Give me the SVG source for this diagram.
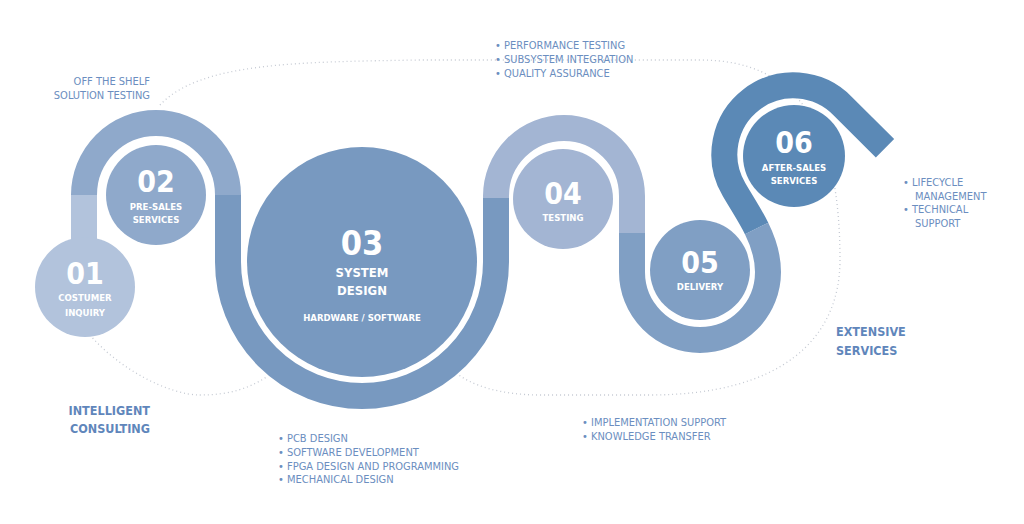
<svg xmlns="http://www.w3.org/2000/svg" width="1024" height="524" viewBox="0 0 1024 524">
<style>
.b{fill:none;stroke-width:26;stroke-linecap:butt}
.dot{fill:none;stroke:#c5cad3;stroke-width:1.3;stroke-dasharray:1 3}
text{font-family:"DejaVu Sans Condensed","DejaVu Sans",sans-serif;text-anchor:middle;fill:#fff;font-weight:bold}
.n{font-size:30px}
.s{font-size:9.5px}
.l{fill:#6b8ec0;font-weight:normal;font-size:11px;text-anchor:start}
.h{fill:#5f86bb;font-size:12.5px;text-anchor:start}
</style>
<rect width="1024" height="524" fill="#fff"/>
<g id="guides">
<path class="dot" d="M160,105 C200,62 300,62 420,60 L700,60 C800,60 840,130 840,260 C840,340 780,395 650,395 L540,395 C500,395 470,385 455,372"/>
<path class="dot" d="M90,335 C120,370 170,395 200,395 C230,395 250,388 268,376"/>
</g>
<g id="connectors">
<path class="b" stroke="#b2c3dc" d="M84,195 V245"/>
<path class="b" stroke="#8fa9cb" d="M84,195 A72,72 0 0 1 228,195"/>
<path class="b" stroke="#7899c0" d="M228,195 V262 A134,134 0 0 0 496,262 V198"/>
<path class="b" stroke="#a3b5d3" d="M496,198 V196 A68,68 0 0 1 632,196 V233"/>
<path class="b" stroke="#809fc4" d="M632,233 V272 A68,68 0 0 0 768,272 C768,256 763.25,241.9 756.6,228.5"/>
<path class="b" stroke="#5b89b6" d="M756.6,228.5 C750,215.1 741.5,202.5 734,189.5 A69,69 0 0 1 842.8,106.2 L885,148.2"/>
</g>
<g id="n01"><circle cx="85" cy="287" r="50" fill="#b2c3dc"/><text class="n" x="85" y="284">01</text><text class="s" x="85" y="301">COSTUMER</text><text class="s" x="85" y="316">INQUIRY</text></g>
<g id="n02"><circle cx="156" cy="195" r="50" fill="#8fa9cb"/><text class="n" x="156" y="192">02</text><text class="s" x="156" y="210">PRE-SALES</text><text class="s" x="156" y="223">SERVICES</text></g>
<g id="n03"><circle cx="362" cy="262" r="115" fill="#7899c0"/><text x="362" y="255" style="font-size:34px">03</text><text x="362" y="277" style="font-size:13px">SYSTEM</text><text x="362" y="295" style="font-size:13px">DESIGN</text><text class="s" x="362" y="321">HARDWARE / SOFTWARE</text></g>
<g id="n04"><circle cx="563" cy="199" r="50" fill="#a3b5d3"/><text class="n" x="563" y="204">04</text><text class="s" x="563" y="221">TESTING</text></g>
<g id="n05"><circle cx="700" cy="270" r="50" fill="#809fc4"/><text class="n" x="700" y="273">05</text><text class="s" x="700" y="290">DELIVERY</text></g>
<g id="n06"><circle cx="794" cy="156" r="51" fill="#5b89b6"/><text class="n" x="794" y="153">06</text><text class="s" x="794" y="171">AFTER-SALES</text><text class="s" x="794" y="184">SERVICES</text></g>
<g id="labels">
<text class="l" x="150" y="85" style="text-anchor:end">OFF THE SHELF</text>
<text class="l" x="150" y="99" style="text-anchor:end">SOLUTION TESTING</text>
<text class="l" x="495" y="49">•  PERFORMANCE TESTING</text>
<text class="l" x="495" y="63">•  SUBSYSTEM INTEGRATION</text>
<text class="l" x="495" y="77">•  QUALITY ASSURANCE</text>
<text class="l" x="903" y="186">•  LIFECYCLE</text>
<text class="l" x="915" y="200">MANAGEMENT</text>
<text class="l" x="903" y="213">•  TECHNICAL</text>
<text class="l" x="915" y="227">SUPPORT</text>
<text class="h" x="836" y="336">EXTENSIVE</text>
<text class="h" x="836" y="355">SERVICES</text>
<text class="h" x="150" y="415" style="text-anchor:end">INTELLIGENT</text>
<text class="h" x="150" y="433" style="text-anchor:end">CONSULTING</text>
<text class="l" x="278" y="442">•  PCB DESIGN</text>
<text class="l" x="278" y="456">•  SOFTWARE DEVELOPMENT</text>
<text class="l" x="278" y="470">•  FPGA DESIGN AND PROGRAMMING</text>
<text class="l" x="278" y="483">•  MECHANICAL DESIGN</text>
<text class="l" x="582" y="426">•  IMPLEMENTATION SUPPORT</text>
<text class="l" x="582" y="440">•  KNOWLEDGE TRANSFER</text>
</g>
</svg>
